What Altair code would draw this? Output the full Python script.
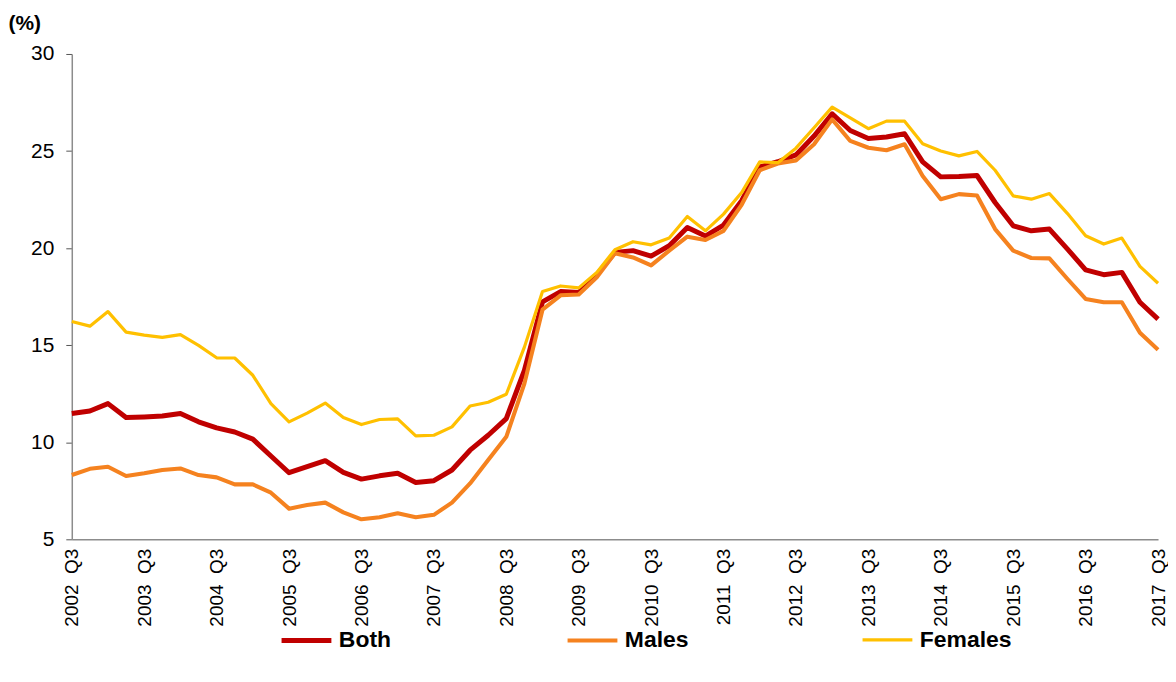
import altair as alt
import pandas as pd

# Quarter labels 2002 Q3 .. 2017 Q3
quarters = []
for y in range(2002, 2018):
    for q in (1, 2, 3, 4):
        if (y == 2002 and q < 3) or (y == 2017 and q > 3):
            continue
        quarters.append(f"{y} Q{q}")
q3_labels = [q for q in quarters if q.endswith("Q3")]

both = [11.48, 11.61, 11.99, 11.27, 11.30, 11.35, 11.48, 11.05, 10.74, 10.53, 10.16, 9.29, 8.43,
        8.74, 9.05, 8.45, 8.10, 8.27, 8.40, 7.93, 8.02, 8.57, 9.59, 10.36, 11.22, 13.70, 17.23,
        17.76, 17.71, 18.63, 19.78, 19.87, 19.59, 20.12, 21.06, 20.62, 21.19, 22.44, 24.18, 24.45,
        24.80, 25.77, 26.92, 26.06, 25.65, 25.72, 25.89, 24.44, 23.67, 23.69, 23.74, 22.35, 21.15,
        20.89, 20.98, 19.95, 18.88, 18.63, 18.75, 17.21, 16.34]
males = [8.31, 8.63, 8.74, 8.26, 8.40, 8.57, 8.65, 8.31, 8.19, 7.83, 7.83, 7.40, 6.58,
         6.77, 6.89, 6.39, 6.03, 6.14, 6.34, 6.14, 6.26, 6.89, 7.88, 9.08, 10.28, 13.02, 16.83,
         17.57, 17.61, 18.50, 19.73, 19.52, 19.11, 19.87, 20.59, 20.42, 20.89, 22.23, 24.01, 24.36,
         24.52, 25.35, 26.63, 25.52, 25.17, 25.04, 25.35, 23.72, 22.52, 22.78, 22.71, 20.98, 19.87,
         19.49, 19.47, 18.41, 17.38, 17.21, 17.21, 15.64, 14.77]
females = [16.22, 15.98, 16.73, 15.67, 15.52, 15.40, 15.54, 14.99, 14.35, 14.34, 13.45, 11.99, 11.05,
           11.50, 12.02, 11.27, 10.91, 11.17, 11.20, 10.33, 10.36, 10.79, 11.87, 12.06, 12.47, 14.90, 17.76,
           18.05, 17.95, 18.75, 19.92, 20.33, 20.17, 20.52, 21.63, 20.89, 21.75, 22.86, 24.44, 24.40,
           25.15, 26.20, 27.26, 26.71, 26.15, 26.54, 26.54, 25.38, 25.00, 24.75, 24.98, 24.01, 22.69,
           22.52, 22.81, 21.78, 20.64, 20.21, 20.52, 19.06, 18.19]

series_names = ["Both", "Males", "Females"]
series_colors = ["#C00000", "#F5821F", "#FFC000"]
series_widths = [5, 3.2, 3.2]

rows = []
for name, vals in zip(series_names, [both, males, females]):
    for i, (q, v) in enumerate(zip(quarters, vals)):
        rows.append({"quarter": q, "value": v, "series": name, "order": i})
df = pd.DataFrame(rows)

FONT = "Liberation Sans"

legend = alt.Legend(
    title=None, orient="none", legendX=208, legendY=561, direction="horizontal",
    symbolType="stroke", symbolSize=2500, labelFontSize=23, labelFontWeight="bold",
    labelFont=FONT, labelColor="black", gridAlign="none", columnPadding=168,
    labelOffset=5, columns=3, labelLimit=300,
)

chart = alt.Chart(df).mark_line(strokeJoin="round", strokeCap="butt").encode(
    x=alt.X("quarter:O", sort=quarters, scale=alt.Scale(padding=0),
            axis=alt.Axis(values=q3_labels, labelAngle=-90, ticks=False, title=None,
                          labelFontSize=19, labelFont=FONT, labelColor="black",
                          labelPadding=9, domainColor="#8C8C8C", domainWidth=1.5,
                          labelExpr="replace(datum.label, ' ', '\u00a0\u00a0')",
                          labelOverlap=False)),
    y=alt.Y("value:Q", scale=alt.Scale(domain=[5, 30], nice=False, zero=False),
            axis=alt.Axis(values=[5, 10, 15, 20, 25, 30], grid=False, tickSize=6,
                          tickColor="#555555", domainColor="#8C8C8C", domainWidth=1.5,
                          labelFontSize=21, labelFont=FONT, labelColor="black", labelPadding=12,
                          title="(%)", titleAngle=0, titleAlign="left", titleBaseline="middle",
                          titleX=-64, titleY=-31, titleFontSize=21, titleFont=FONT,
                          titleFontWeight="bold", titleColor="black")),
    color=alt.Color("series:N", sort=series_names,
                    scale=alt.Scale(domain=series_names, range=series_colors), legend=legend),
    strokeWidth=alt.StrokeWidth("series:N", sort=series_names,
                                scale=alt.Scale(domain=series_names, range=series_widths),
                                legend=legend),
    order=alt.Order("order:Q"),
).properties(
    width=1090, height=487,
    autosize=alt.AutoSizeParams(type="none"),
    padding={"left": 64, "top": 45, "right": 10, "bottom": 130},
).configure_view(stroke=None)

chart.save("out.html", embed_options={"renderer": "svg", "actions": False})
